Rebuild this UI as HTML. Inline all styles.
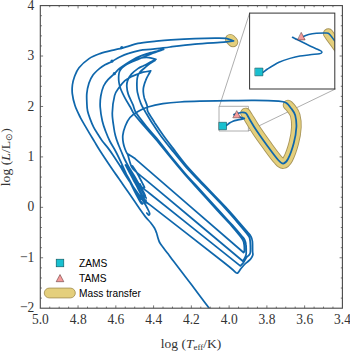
<!DOCTYPE html>
<html><head><meta charset="utf-8"><style>
html,body{margin:0;padding:0;background:#fff;}
svg{display:block;}
.serif{font-family:"Liberation Serif",serif;}
.sans{font-family:"Liberation Sans",sans-serif;}
</style></head><body>
<svg width="350" height="351" viewBox="0 0 350 351">
<defs>
<clipPath id="plot"><rect x="40.3" y="5.6" width="302.09999999999997" height="302.59999999999997"/></clipPath>
<clipPath id="ins"><rect x="249.6" y="13.1" width="85" height="75.9"/></clipPath>
</defs>
<rect width="350" height="351" fill="#fff"/>
<g clip-path="url(#plot)" fill="none" stroke-linecap="round" stroke-linejoin="round">
<rect x="219.4" y="106.3" width="29" height="24.7" stroke="#999" stroke-width="0.8"/>
<path d="M219.4,106.3 L249.6,13.1 M248.4,131 L335.4,89" stroke="#999" stroke-width="0.8"/>
<path d="M245.5,113.0 C245.8,113.5 245.6,113.0 247.5,116.0 C249.4,119.0 253.6,126.2 257.0,131.3 C260.4,136.4 264.3,141.7 267.8,146.5 C271.3,151.3 275.6,157.2 278.2,160.0 C280.8,162.8 281.6,163.8 283.2,163.6 C284.8,163.4 286.2,162.4 288.0,159.0 C289.8,155.6 292.4,148.3 293.8,143.0 C295.2,137.7 296.2,131.6 296.4,127.0 C296.6,122.4 296.0,118.4 295.2,115.3 C294.4,112.2 292.5,110.3 291.3,108.6 C290.1,106.9 288.6,105.6 288.0,105.0" stroke="#a8955a" stroke-width="10.6"/>
<path d="M245.5,113.0 C245.8,113.5 245.6,113.0 247.5,116.0 C249.4,119.0 253.6,126.2 257.0,131.3 C260.4,136.4 264.3,141.7 267.8,146.5 C271.3,151.3 275.6,157.2 278.2,160.0 C280.8,162.8 281.6,163.8 283.2,163.6 C284.8,163.4 286.2,162.4 288.0,159.0 C289.8,155.6 292.4,148.3 293.8,143.0 C295.2,137.7 296.2,131.6 296.4,127.0 C296.6,122.4 296.0,118.4 295.2,115.3 C294.4,112.2 292.5,110.3 291.3,108.6 C290.1,106.9 288.6,105.6 288.0,105.0" stroke="#e4cf7c" stroke-width="8.8"/>
<path d="M230.3,39.2 L233,41.9" stroke="#a8955a" stroke-width="10.6"/>
<path d="M230.3,39.2 L233,41.9" stroke="#e4cf7c" stroke-width="8.8"/>
<path d="M209.6,308.9 C207.8,306.5 203.1,300.1 199.0,294.7 C194.9,289.2 189.3,281.8 185.0,276.2 C180.7,270.6 176.2,264.6 173.4,261.0 C170.6,257.4 170.2,256.6 168.4,254.3 C166.6,252.0 164.3,249.1 162.8,247.0 C161.3,244.9 160.2,243.6 159.4,242.0 C158.6,240.4 158.4,239.2 157.9,237.7 C157.4,236.2 157.1,234.5 156.5,232.8 C155.9,231.2 155.3,229.5 154.3,227.8 C153.3,226.1 152.1,224.6 150.7,222.8 C149.3,221.0 147.4,219.2 145.7,217.1 C144.0,215.0 142.6,213.0 140.5,210.0 C138.4,207.0 135.6,202.7 133.0,199.0 C130.4,195.3 127.4,191.0 125.0,187.6 C122.6,184.2 121.0,181.7 118.8,178.5 C116.6,175.3 114.9,173.1 111.8,168.5 C108.7,163.9 102.9,155.2 100.0,150.7 C97.1,146.2 96.6,145.1 94.5,141.6 C92.4,138.1 89.6,133.6 87.3,129.6 C85.0,125.6 82.5,121.6 80.4,117.6 C78.4,113.6 76.3,109.6 75.0,105.6 C73.7,101.6 72.7,97.0 72.3,93.6 C71.9,90.2 72.1,87.8 72.4,85.0 C72.8,82.2 73.3,79.9 74.4,77.0 C75.5,74.1 76.5,70.8 79.0,67.7 C81.5,64.6 85.6,61.0 89.1,58.6 C92.6,56.2 95.8,55.1 100.0,53.6 C104.2,52.1 110.7,50.7 114.4,49.8 C118.1,48.9 119.5,48.8 122.0,48.1 C124.5,47.4 126.8,46.6 129.5,45.8 C132.2,45.0 133.8,44.1 138.0,43.4 C142.2,42.7 149.1,42.0 154.6,41.4 C160.1,40.8 164.3,40.3 171.0,39.9 C177.7,39.5 187.7,39.0 195.0,38.7 C202.3,38.4 209.8,38.2 215.0,38.1 C220.2,38.0 222.9,37.9 226.0,38.4 C229.1,38.9 232.2,40.5 233.5,40.9 M233.5,40.9 C231.9,41.1 230.4,41.7 224.0,42.2 C217.6,42.7 204.0,43.3 195.0,44.1 C186.0,44.9 177.0,46.1 170.0,47.0 C163.0,47.9 157.9,48.7 152.9,49.2 C147.9,49.8 144.1,49.6 140.0,50.3 C135.9,51.0 132.1,52.2 128.6,53.4 C125.1,54.5 122.0,55.9 119.2,57.2 C116.5,58.5 114.5,60.1 112.1,61.4 C109.7,62.7 107.1,63.6 105.0,64.8 C102.9,66.0 101.4,66.9 99.4,68.6 C97.4,70.3 94.7,72.6 93.0,75.0 C91.3,77.4 90.0,79.9 89.0,83.0 C88.0,86.1 87.1,90.1 86.8,93.6 C86.5,97.1 86.8,101.1 86.9,104.0 C87.0,106.9 87.1,108.6 87.6,111.0 C88.1,113.4 89.0,115.9 90.0,118.6 C91.0,121.3 92.3,124.5 93.6,127.1 C94.9,129.7 96.5,132.0 97.9,134.3 C99.3,136.6 100.4,138.4 102.1,140.7 C103.8,143.0 106.0,145.4 107.9,147.9 C109.8,150.4 111.7,153.1 113.6,155.9 C115.5,158.8 117.4,161.7 119.5,165.0 C121.6,168.3 123.9,172.7 126.0,176.0 C128.1,179.3 130.0,182.1 132.0,185.0 C134.0,187.9 136.1,190.8 138.0,193.5 C139.9,196.2 141.9,199.0 143.5,201.5 C145.1,204.0 146.5,206.6 147.5,208.5 C148.5,210.4 149.4,212.1 149.6,213.2 C149.8,214.3 149.3,215.0 148.8,215.0 C148.3,215.0 147.1,213.3 146.8,213.0 M140.5,201.0 C140.8,201.4 142.4,203.2 142.5,203.5 C142.6,203.8 142.1,204.6 141.0,203.0 C139.9,201.4 137.7,197.2 136.0,194.0 C134.3,190.8 132.6,187.2 131.0,184.0 C129.4,180.8 127.9,177.6 126.5,174.5 C125.1,171.4 124.2,169.2 122.5,165.5 C120.8,161.8 118.1,156.0 116.0,152.0 C113.9,148.0 111.8,145.0 110.0,141.5 C108.2,138.0 106.8,134.4 105.5,131.0 C104.2,127.6 103.2,125.0 102.3,121.0 C101.4,117.0 100.5,111.2 100.2,107.0 C100.0,102.8 100.2,99.5 100.8,96.0 C101.4,92.5 102.4,88.7 103.6,86.0 C104.8,83.3 106.2,81.7 108.0,79.7 C109.8,77.7 112.4,75.6 114.3,73.8 C116.2,72.0 117.2,70.4 119.2,68.8 C121.2,67.2 123.7,65.5 126.0,64.0 C128.3,62.5 130.6,61.1 132.9,59.8 C135.2,58.5 137.4,57.4 139.7,56.4 C142.0,55.4 144.5,54.6 146.6,53.9 C148.7,53.2 150.4,52.8 152.2,52.3 C154.0,51.8 155.6,51.5 157.5,51.0 C159.4,50.5 162.6,49.7 163.6,49.4 M163.6,49.4 C162.5,49.8 159.3,50.8 157.0,51.6 C154.7,52.4 152.3,53.5 150.0,54.4 C147.7,55.3 145.3,56.3 143.0,57.3 C140.7,58.3 138.2,59.3 136.0,60.2 C133.8,61.1 131.8,61.9 130.0,62.8 C128.2,63.7 126.4,64.6 125.0,65.5 C123.6,66.4 122.4,67.3 121.5,68.3 C120.6,69.3 120.0,70.2 119.5,71.5 C119.0,72.8 118.8,74.2 118.7,76.0 C118.6,77.8 118.6,79.9 118.9,82.0 C119.2,84.1 119.5,85.8 120.5,88.5 C121.5,91.2 123.3,94.8 124.9,97.9 C126.5,101.0 128.7,104.3 130.3,107.0 C131.9,109.7 131.8,110.9 134.3,114.2 C136.7,117.6 141.4,122.9 144.9,127.0 C148.4,131.1 151.4,134.0 155.5,138.9 C159.7,143.8 164.8,150.4 169.6,156.3 C174.4,162.2 180.5,169.5 184.6,174.3 C188.8,179.2 189.2,179.3 194.6,185.3 C200.1,191.3 211.2,203.6 217.3,210.3 C223.5,217.1 227.9,221.6 231.6,225.8 C235.4,230.1 237.9,233.3 239.8,235.7 C241.7,238.1 242.3,238.8 243.0,240.4 C243.8,241.9 244.0,243.3 244.2,245.1 C244.4,247.0 244.4,250.3 244.3,251.5 C244.2,252.8 243.6,252.3 243.5,252.5 M155.9,59.3 C154.8,59.0 151.2,57.9 149.0,57.6 C146.8,57.3 145.0,57.4 143.0,57.7 C141.0,58.0 139.0,58.6 137.0,59.4 C135.0,60.1 132.0,61.7 131.0,62.2 M155.9,59.3 C154.9,59.8 152.1,61.3 150.0,62.4 C147.9,63.5 145.5,64.8 143.5,65.8 C141.5,66.8 139.9,67.2 137.9,68.6 C135.9,70.0 133.1,72.1 131.4,74.1 C129.7,76.1 128.4,78.5 127.6,80.6 C126.8,82.7 126.7,84.2 126.8,86.5 C126.9,88.8 127.3,91.4 128.3,94.4 C129.3,97.4 131.6,101.6 132.9,104.7 C134.2,107.8 133.9,109.2 136.1,112.8 C138.3,116.3 142.7,121.8 146.1,126.0 C149.5,130.2 152.4,133.2 156.5,138.1 C160.5,143.1 165.6,149.7 170.4,155.7 C175.2,161.6 181.2,168.8 185.4,173.7 C189.5,178.5 189.9,178.7 195.4,184.7 C200.8,190.7 211.9,202.9 218.1,209.7 C224.2,216.4 228.6,221.0 232.4,225.2 C236.2,229.4 238.8,232.5 240.8,234.9 C242.8,237.3 243.7,238.0 244.6,239.6 C245.4,241.3 245.8,242.9 246.0,244.9 C246.3,246.9 246.2,249.8 246.2,251.5 C246.2,253.2 246.3,253.8 246.0,255.0 C245.7,256.2 245.1,257.5 244.5,258.5 C243.9,259.5 243.0,260.6 242.7,261.0 M155.0,60.5 C154.2,61.0 151.8,62.4 150.0,63.6 C148.2,64.8 146.2,66.6 144.5,68.0 C142.8,69.4 141.2,70.5 140.0,72.0 C138.8,73.5 138.0,75.2 137.5,77.0 C137.0,78.8 136.9,80.5 136.9,83.0 C136.9,85.5 136.7,88.7 137.4,92.1 C138.1,95.5 139.5,100.2 140.9,103.6 C142.3,107.0 143.8,109.2 145.8,112.6 C147.8,116.0 150.3,120.3 152.8,124.1 C155.3,128.0 157.4,131.2 160.7,135.7 C164.0,140.1 168.7,146.0 172.8,151.1 C176.8,156.1 180.7,161.0 185.0,165.9 C189.3,170.8 191.9,173.4 198.5,180.4 C205.1,187.3 218.2,200.7 224.6,207.6 C231.0,214.5 233.5,217.7 237.0,221.9 C240.6,226.0 243.9,230.0 245.9,232.5 C247.9,235.0 248.4,235.4 249.2,236.9 C249.9,238.4 250.0,239.2 250.2,241.6 C250.4,244.0 250.5,249.4 250.4,251.5 C250.3,253.7 250.2,253.5 249.5,254.5 C248.8,255.5 247.5,256.2 246.5,257.5 C245.5,258.8 244.5,261.1 243.5,262.5 C242.5,263.9 240.8,265.3 240.3,265.9 M143.5,195.5 C143.8,195.8 145.4,197.4 145.5,197.0 C145.6,196.6 145.1,195.2 144.0,193.0 C142.9,190.8 140.7,186.9 139.0,184.0 C137.3,181.1 135.8,178.4 134.0,175.5 C132.2,172.6 130.1,169.2 128.5,166.5 C126.9,163.8 125.7,161.4 124.5,159.0 C123.3,156.6 122.4,154.2 121.5,152.0 C120.6,149.8 119.7,147.7 119.0,146.0 C118.3,144.3 117.9,143.3 117.3,141.6 C116.7,139.9 116.1,138.3 115.5,136.0 C114.9,133.7 114.4,131.8 113.9,128.0 C113.4,124.2 112.2,118.4 112.3,113.0 C112.4,107.6 113.5,99.8 114.6,95.6 C115.7,91.4 117.4,90.1 119.1,87.6 C120.8,85.1 123.0,82.5 124.9,80.7 C126.8,79.0 128.7,78.1 130.6,77.1 C132.5,76.1 134.2,75.4 136.3,74.6 C138.4,73.8 140.6,72.8 143.0,72.2 C145.4,71.6 149.4,71.1 150.7,70.9 M150.7,70.9 C150.3,71.7 148.9,73.8 148.1,75.4 C147.2,77.0 146.3,78.7 145.6,80.6 C144.8,82.5 144.0,85.1 143.6,87.0 C143.2,88.9 143.2,90.2 143.3,92.0 C143.4,93.8 143.7,95.6 144.3,97.9 C145.0,100.2 146.6,103.8 147.2,106.0 C147.8,108.2 146.6,108.6 147.8,111.4 C149.1,114.2 152.4,119.0 154.8,122.9 C157.3,126.7 159.3,129.8 162.5,134.3 C165.7,138.9 170.3,144.8 174.2,149.9 C178.1,155.1 181.8,160.1 186.0,165.1 C190.2,170.0 192.7,172.7 199.3,179.6 C205.9,186.6 219.0,199.9 225.4,206.8 C231.9,213.7 234.3,217.0 238.0,221.1 C241.6,225.2 244.9,229.0 247.1,231.5 C249.2,234.0 250.0,234.4 250.8,236.1 C251.7,237.7 252.1,238.8 252.4,241.4 C252.7,244.0 252.5,249.2 252.6,251.5 C252.7,253.7 253.1,253.8 252.8,255.0 C252.5,256.2 251.8,257.4 251.0,258.5 C250.2,259.6 249.1,260.5 248.0,261.5 C246.9,262.5 245.7,263.3 244.5,264.5 C243.3,265.7 242.0,267.2 241.0,268.5 C240.0,269.8 239.0,271.5 238.3,272.3 C237.6,273.1 237.4,273.2 237.0,273.2 C236.6,273.2 235.8,272.5 235.6,272.4 M223.5,125.8 C224.0,125.7 225.6,125.8 226.6,125.3 C227.6,124.8 228.4,123.7 229.5,123.0 C230.6,122.3 231.8,121.7 233.0,121.2 C234.2,120.7 235.5,120.4 237.0,120.1 C238.5,119.8 240.8,119.5 242.0,119.2 C243.2,118.9 243.9,118.6 244.3,118.5 M244.3,118.5 C243.2,118.1 239.7,116.9 238.0,116.2 C236.3,115.5 234.7,114.9 234.0,114.6 M234.0,114.6 C234.5,114.4 235.8,113.9 237.0,113.6 C238.2,113.2 239.8,112.7 241.0,112.5 C242.2,112.3 243.4,112.3 244.3,112.6 C245.2,112.8 245.7,112.8 246.6,114.0 C247.5,115.2 248.3,117.1 250.0,120.0 C251.7,122.9 254.0,126.9 257.0,131.3 C260.0,135.7 264.3,141.7 267.8,146.5 C271.3,151.3 275.6,157.2 278.2,160.0 C280.8,162.8 281.6,163.8 283.2,163.6 C284.8,163.4 286.2,162.4 288.0,159.0 C289.8,155.6 292.4,148.3 293.8,143.0 C295.2,137.7 296.2,131.6 296.4,127.0 C296.6,122.4 296.0,118.4 295.2,115.3 C294.4,112.2 292.8,110.7 291.3,108.6 C289.8,106.5 288.1,104.0 286.0,102.8 C283.9,101.6 283.7,101.6 278.5,101.2 C273.3,100.8 263.1,100.4 255.0,100.3 C246.9,100.2 239.2,100.4 230.0,100.6 C220.8,100.8 208.3,101.0 200.0,101.2 C191.7,101.4 186.2,101.6 180.0,102.0 C173.8,102.4 168.2,102.9 162.9,103.7 C157.6,104.5 152.2,105.7 148.0,107.0 C143.8,108.3 141.0,109.8 138.0,111.5 C135.0,113.2 132.1,115.1 130.0,117.5 C127.9,119.9 126.5,123.0 125.3,126.0 C124.1,129.0 123.1,132.6 122.8,135.4 C122.5,138.2 122.9,140.7 123.3,143.0 C123.7,145.3 124.5,147.7 125.2,149.5 C125.9,151.3 126.5,152.7 127.2,153.6 C127.9,154.5 128.2,154.2 129.5,155.0 C130.8,155.8 134.1,158.0 135.0,158.6 M135.0,158.6 C153.1,174.2 225.4,236.8 243.5,252.5 M242.7,261.0 C227.2,248.1 167.3,197.8 150.0,183.4 C132.7,169.0 141.6,176.7 139.0,174.5 C136.4,172.3 135.8,171.6 134.5,170.3 C133.2,169.0 132.3,168.0 131.5,166.5 C130.7,165.0 130.2,163.0 129.7,161.5 C129.2,160.0 128.9,158.7 128.6,157.5 C128.3,156.3 127.9,155.0 127.8,154.5 M240.3,265.9 C225.2,253.9 166.2,206.6 150.0,193.7 C133.8,180.8 144.5,189.6 143.0,188.3 C141.5,187.0 141.5,186.7 141.0,186.0 C140.5,185.3 140.2,184.3 140.0,184.0 M235.6,272.4 C233.3,270.5 236.3,272.2 222.0,261.0 C207.7,249.8 162.4,214.5 150.0,204.9 C137.6,195.3 148.2,203.9 147.5,203.3 C146.8,202.7 146.2,202.1 146.0,201.5 C145.8,200.9 146.0,200.2 146.0,200.0 M125.5,165.0 C126.2,166.2 128.1,169.8 129.5,172.5 C130.9,175.2 132.5,178.2 134.0,181.0 C135.5,183.8 137.2,186.9 138.5,189.5 C139.8,192.1 141.1,194.5 142.0,196.5 C142.9,198.5 143.7,200.2 144.2,201.5 C144.7,202.8 145.0,203.8 145.0,204.0 C145.0,204.2 144.3,203.2 144.2,203.0 M127.5,166.0 C128.2,167.3 130.1,171.2 131.5,174.0 C132.9,176.8 134.5,180.0 136.0,183.0 C137.5,186.0 139.2,189.4 140.5,192.0 C141.8,194.6 143.0,196.8 144.0,198.5 C145.0,200.2 146.1,201.8 146.5,202.5 M131.0,171.0 C131.8,172.5 134.4,177.2 136.0,180.0 C137.6,182.8 139.1,185.4 140.5,188.0 C141.9,190.6 143.6,193.8 144.5,195.5 C145.4,197.2 145.9,197.6 146.2,198.0 M121.5,166.0 C122.1,167.0 123.8,169.8 125.0,172.0 C126.2,174.2 127.7,176.6 129.0,179.0 C130.3,181.4 131.7,184.0 133.0,186.5 C134.3,189.0 135.9,192.1 137.0,194.0 C138.1,195.9 138.8,197.2 139.5,198.0 C140.2,198.8 140.9,199.3 141.0,199.0 C141.1,198.7 140.2,196.5 140.0,196.0 M132.5,166.0 C133.2,167.0 135.2,169.9 136.5,172.0 C137.8,174.1 138.9,176.5 140.0,178.5 C141.1,180.5 142.1,182.5 142.8,184.0 C143.6,185.5 144.4,186.9 144.5,187.5 C144.6,188.1 143.7,187.5 143.5,187.5" stroke="#0f67ac" stroke-width="1.75"/>
<g fill="#0f67ac" stroke="none"><circle cx="121.8" cy="47.6" r="1.6"/><circle cx="112" cy="61.1" r="1.6"/><circle cx="114.3" cy="73.7" r="1.6"/></g>
<rect x="219.1" y="122.3" width="7.4" height="7.4" fill="#18c0d0" stroke="#0b4f57" stroke-width="0.6"/>
<path d="M236.9,111 L240.6,117.8 L233.2,117.8 Z" fill="#f59b9b" stroke="#5a2d2d" stroke-width="0.55"/>
</g>
<!-- inset -->
<rect x="249.6" y="13.1" width="85.4" height="75.9" fill="#fff"/>
<g clip-path="url(#ins)" fill="none" stroke-linecap="round" stroke-linejoin="round">
<path d="M328.3,33.6 C328.8,34.2 329.9,35.9 331.0,37.5 C332.1,39.1 333.5,40.9 335.0,43.0 C336.5,45.1 339.2,48.8 340.0,50.0" stroke="#a8955a" stroke-width="10.6"/>
<path d="M328.3,33.6 C328.8,34.2 329.9,35.9 331.0,37.5 C332.1,39.1 333.5,40.9 335.0,43.0 C336.5,45.1 339.2,48.8 340.0,50.0" stroke="#e4cf7c" stroke-width="8.8"/>
<path d="M259.0,73.0 C259.7,72.9 261.6,73.0 263.0,72.3 C264.4,71.6 264.8,70.7 267.5,69.0 C270.2,67.3 275.2,64.1 279.0,62.3 C282.8,60.5 286.5,59.4 290.0,58.4 C293.5,57.4 296.7,56.6 300.0,56.0 C303.3,55.4 306.8,55.2 310.0,54.8 C313.2,54.4 317.5,54.2 319.5,53.8 C321.5,53.4 321.7,53.1 321.8,52.6 C321.9,52.1 322.6,51.9 320.4,50.7 C318.2,49.5 312.4,47.0 308.6,45.2 C304.8,43.4 300.3,41.1 297.6,39.8 C294.9,38.5 293.4,37.7 292.5,37.3 M292.5,37.3 C293.4,37.7 296.0,39.8 297.6,39.7 C299.2,39.7 300.5,37.9 302.3,37.0 C304.1,36.1 306.2,35.1 308.6,34.5 C311.0,33.9 313.8,33.5 316.4,33.3 C319.0,33.1 322.0,33.1 324.0,33.1 C326.0,33.1 327.0,32.8 328.2,33.3 C329.4,33.8 329.9,34.8 331.0,36.0 C332.1,37.2 333.3,39.1 334.5,40.6 C335.7,42.1 337.4,44.3 338.0,45.0" stroke="#0f67ac" stroke-width="1.5"/>
<rect x="255.2" y="68.1" width="7.7" height="7.7" fill="#18c0d0" stroke="#0b4f57" stroke-width="0.6"/>
<path d="M301.4,32.7 L305.1,39.9 L297.9,39.9 Z" fill="#f59b9b" stroke="#5a2d2d" stroke-width="0.55"/>
</g>
<rect x="249.6" y="13.1" width="85.2" height="75.9" fill="none" stroke="#333" stroke-width="1"/>
<!-- frame -->
<path d="M49.74,308.2 v-1.6 M49.74,5.6 v1.6 M59.18,308.2 v-1.6 M59.18,5.6 v1.6 M68.62,308.2 v-1.6 M68.62,5.6 v1.6 M78.06,308.2 v-2.8 M78.06,5.6 v2.8 M87.50,308.2 v-1.6 M87.50,5.6 v1.6 M96.94,308.2 v-1.6 M96.94,5.6 v1.6 M106.38,308.2 v-1.6 M106.38,5.6 v1.6 M115.83,308.2 v-2.8 M115.83,5.6 v2.8 M125.27,308.2 v-1.6 M125.27,5.6 v1.6 M134.71,308.2 v-1.6 M134.71,5.6 v1.6 M144.15,308.2 v-1.6 M144.15,5.6 v1.6 M153.59,308.2 v-2.8 M153.59,5.6 v2.8 M163.03,308.2 v-1.6 M163.03,5.6 v1.6 M172.47,308.2 v-1.6 M172.47,5.6 v1.6 M181.91,308.2 v-1.6 M181.91,5.6 v1.6 M191.35,308.2 v-2.8 M191.35,5.6 v2.8 M200.79,308.2 v-1.6 M200.79,5.6 v1.6 M210.23,308.2 v-1.6 M210.23,5.6 v1.6 M219.67,308.2 v-1.6 M219.67,5.6 v1.6 M229.11,308.2 v-2.8 M229.11,5.6 v2.8 M238.55,308.2 v-1.6 M238.55,5.6 v1.6 M247.99,308.2 v-1.6 M247.99,5.6 v1.6 M257.43,308.2 v-1.6 M257.43,5.6 v1.6 M266.88,308.2 v-2.8 M266.88,5.6 v2.8 M276.32,308.2 v-1.6 M276.32,5.6 v1.6 M285.76,308.2 v-1.6 M285.76,5.6 v1.6 M295.20,308.2 v-1.6 M295.20,5.6 v1.6 M304.64,308.2 v-2.8 M304.64,5.6 v2.8 M314.08,308.2 v-1.6 M314.08,5.6 v1.6 M323.52,308.2 v-1.6 M323.52,5.6 v1.6 M332.96,308.2 v-1.6 M332.96,5.6 v1.6 M40.3,298.11 h1.6 M342.4,298.11 h-1.6 M40.3,288.03 h1.6 M342.4,288.03 h-1.6 M40.3,277.94 h1.6 M342.4,277.94 h-1.6 M40.3,267.85 h1.6 M342.4,267.85 h-1.6 M40.3,257.77 h2.8 M342.4,257.77 h-2.8 M40.3,247.68 h1.6 M342.4,247.68 h-1.6 M40.3,237.59 h1.6 M342.4,237.59 h-1.6 M40.3,227.51 h1.6 M342.4,227.51 h-1.6 M40.3,217.42 h1.6 M342.4,217.42 h-1.6 M40.3,207.33 h2.8 M342.4,207.33 h-2.8 M40.3,197.25 h1.6 M342.4,197.25 h-1.6 M40.3,187.16 h1.6 M342.4,187.16 h-1.6 M40.3,177.07 h1.6 M342.4,177.07 h-1.6 M40.3,166.99 h1.6 M342.4,166.99 h-1.6 M40.3,156.90 h2.8 M342.4,156.90 h-2.8 M40.3,146.81 h1.6 M342.4,146.81 h-1.6 M40.3,136.73 h1.6 M342.4,136.73 h-1.6 M40.3,126.64 h1.6 M342.4,126.64 h-1.6 M40.3,116.55 h1.6 M342.4,116.55 h-1.6 M40.3,106.47 h2.8 M342.4,106.47 h-2.8 M40.3,96.38 h1.6 M342.4,96.38 h-1.6 M40.3,86.29 h1.6 M342.4,86.29 h-1.6 M40.3,76.21 h1.6 M342.4,76.21 h-1.6 M40.3,66.12 h1.6 M342.4,66.12 h-1.6 M40.3,56.03 h2.8 M342.4,56.03 h-2.8 M40.3,45.95 h1.6 M342.4,45.95 h-1.6 M40.3,35.86 h1.6 M342.4,35.86 h-1.6 M40.3,25.77 h1.6 M342.4,25.77 h-1.6 M40.3,15.69 h1.6 M342.4,15.69 h-1.6" stroke="#555" stroke-width="0.8" fill="none"/>
<rect x="40.3" y="5.6" width="302.1" height="302.6" fill="none" stroke="#484848" stroke-width="1.1"/>
<g class="serif" font-size="13.5" fill="#333"><text transform="translate(40.4,323.9) scale(1,1.12)" text-anchor="middle">5.0</text><text transform="translate(78.2,323.9) scale(1,1.12)" text-anchor="middle">4.8</text><text transform="translate(115.9,323.9) scale(1,1.12)" text-anchor="middle">4.6</text><text transform="translate(153.7,323.9) scale(1,1.12)" text-anchor="middle">4.4</text><text transform="translate(191.4,323.9) scale(1,1.12)" text-anchor="middle">4.2</text><text transform="translate(229.2,323.9) scale(1,1.12)" text-anchor="middle">4.0</text><text transform="translate(267.0,323.9) scale(1,1.12)" text-anchor="middle">3.8</text><text transform="translate(304.7,323.9) scale(1,1.12)" text-anchor="middle">3.6</text><text transform="translate(342.5,323.9) scale(1,1.12)" text-anchor="middle">3.4</text><text transform="translate(34.3,9.6) scale(1,1.12)" text-anchor="end">4</text><text transform="translate(34.3,60.0) scale(1,1.12)" text-anchor="end">3</text><text transform="translate(34.3,110.5) scale(1,1.12)" text-anchor="end">2</text><text transform="translate(34.3,160.9) scale(1,1.12)" text-anchor="end">1</text><text transform="translate(34.3,211.3) scale(1,1.12)" text-anchor="end">0</text><text transform="translate(34.3,261.8) scale(1,1.12)" text-anchor="end">−1</text><text transform="translate(34.3,312.2) scale(1,1.12)" text-anchor="end">−2</text></g>
<!-- axis labels -->
<g class="serif" font-size="13.5" fill="#333">
<text x="160.8" y="348" textLength="60.5" lengthAdjust="spacingAndGlyphs">log (<tspan font-style="italic">T</tspan><tspan font-size="9" dy="2">eff</tspan><tspan dy="-2">/K)</tspan></text>
<text transform="translate(10.4,186.2) rotate(-90)" textLength="58" lengthAdjust="spacingAndGlyphs">log (<tspan font-style="italic">L</tspan>/L<tspan font-size="8.5" dy="2">&#x2299;</tspan><tspan dy="-2">)</tspan></text>
</g>
<!-- legend -->
<rect x="56.2" y="259.2" width="7.6" height="7.6" fill="#18c0d0" stroke="#0b4f57" stroke-width="0.6"/>
<path d="M60,274.5 L63.8,281.7 L56.2,281.7 Z" fill="#f59b9b" stroke="#5a2d2d" stroke-width="0.55"/>
<rect x="44.3" y="288.1" width="31" height="9.8" rx="4.9" fill="#e4cf7c" stroke="#a8955a" stroke-width="0.9"/>
<g class="sans" font-size="10.2" fill="#000">
<text x="79.1" y="266.7">ZAMS</text>
<text x="79.1" y="282.1">TAMS</text>
<text x="79.1" y="297.3">Mass transfer</text>
</g>
</svg>
</body></html>
